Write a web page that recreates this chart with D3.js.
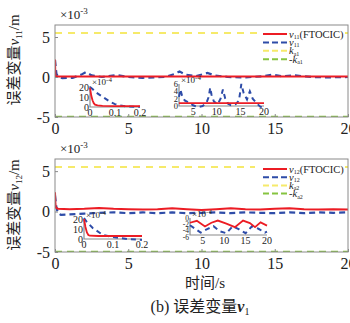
<!DOCTYPE html>
<html><head><meta charset="utf-8">
<script src="https://cdn.jsdelivr.net/npm/d3@7"></script>
<style>body{margin:0;background:#fff}svg{display:block}</style>
</head><body>
<script>
// ---------- DATA ----------
// main panels, units 1e-3 m
const xTicksMain = [0, 5, 10, 15, 20];
const yTicksMain = [-5, 0, 5];
const kBound = 5.5, kNeg = -5;

const topRedT = [0, 0.02, 0.05, 0.2, 20];
const topRedV = [2.2, 0.4, 0.1, 0.05, 0.05];
const topBlueT = [0, 0.05, 0.1, 0.2, 0.5, 1.2, 1.8, 2.1, 2.5, 3.2, 4.2, 5, 6, 7.5, 8.2, 8.5, 8.9, 9.6, 10.4, 10.9, 11.8, 13, 14.2, 14.8, 15.5, 16.4, 17.5, 18.6, 20];
const topBlueV = [2.1, 1.2, 0.4, 0.05, -0.15, -0.1, 0.3, 0.6, 0.2, 0, 0.25, 0, -0.1, 0, 0.4, 0.7, 0.3, 0.1, 0.5, 0.2, 0, -0.05, 0.1, 0.3, 0.1, 0.2, 0, -0.05, 0];

const botRedT = [0, 0.02, 0.05, 0.2, 1, 2, 3, 4, 5, 6, 7, 8, 9, 10, 11, 12, 13, 14, 15, 16, 17, 18, 19, 20];
const botRedV = [2.4, 1.2, 0.5, 0.35, 0.3, 0.35, 0.45, 0.35, 0.3, 0.25, 0.3, 0.4, 0.3, 0.2, 0.3, 0.4, 0.3, 0.25, 0.35, 0.4, 0.3, 0.25, 0.3, 0.25];
const botBlueT = [0, 0.05, 0.1, 0.2, 0.4, 1, 2, 3, 4, 5, 6, 7, 8, 9, 10, 11, 12, 13, 14, 15, 16, 17, 18, 19, 20];
const botBlueV = [2.0, 1.2, 0.5, -0.2, -0.4, -0.35, -0.25, -0.15, -0.1, -0.2, -0.1, -0.2, -0.1, -0.2, -0.15, -0.1, -0.2, -0.1, -0.15, -0.2, -0.1, -0.2, -0.1, -0.15, -0.1];

// insets, units 1e-4 m
const inA_xTicks = [0, 0.1, 0.2];
const inA_yTicks = [0, 10, 20];
const topInARedT = [0, 0.005, 0.01, 0.015, 0.02, 0.03, 0.05, 0.1, 0.2];
const topInARedV = [20, 12, 7, 4, 2.5, 1.6, 1.2, 1, 1];
const topInABlueT = [0, 0.01, 0.02, 0.04, 0.06, 0.08, 0.1, 0.12, 0.15, 0.2];
const topInABlueV = [21, 19, 16, 12.5, 9, 5.5, 3, 1.5, 0.5, 0.3];

const botInARedT = [0, 0.005, 0.01, 0.015, 0.02, 0.05, 0.1, 0.2];
const botInARedV = [20, 12, 6.5, 4, 3.3, 3, 3, 3];
const botInABlueT = [0, 0.01, 0.03, 0.065, 0.1, 0.15, 0.2];
const botInABlueV = [21, 17, 11, 4, 2, 0, -1];

const inB_xTicks = [5, 10, 15, 20];
const topInB_yTicks = [0, 2, 4, 6];
const topInBRedT = [2, 20];
const topInBRedV = [0.8, 0.8];
const topInBBlueT = [2, 2.3, 2.6, 3.2, 4.0, 5.0, 6.0, 7.0, 7.8, 8.3, 8.6, 8.9, 9.4, 10.2, 10.8, 11.3, 11.8, 12.4, 13.0, 14.0, 14.7, 15.2, 15.7, 16.4, 17.0, 17.6, 18.4, 19.2, 20];
const topInBBlueV = [2.5, 4.5, 3, 1.5, 1, 0.2, -0.3, 0, 0.8, 2.5, 5, 3, 1.2, 0.5, 2, 4.5, 2, 0.6, 0.2, 0.5, 1.5, 6, 3.5, 1.8, 4, 2, 0.8, -0.2, -0.5];

const botInB_yTicks = [-6, -4, -2, 0];
const botInBRedT = [2, 3.6, 5.5, 7, 8.5, 10.5, 12.5, 14.4, 16, 17.2, 18.5, 20];
const botInBRedV = [-1.5, -0.9, -2.7, -1.5, -0.8, -1.8, -2.9, -0.8, -1.6, -2.9, -1.4, -2.4];
const botInBBlueT = [2, 3, 4.5, 6, 7.5, 9, 10.5, 12, 13.5, 15, 16.5, 18, 19.5, 20];
const botInBBlueV = [-2.3, -3.2, -4.6, -3.5, -2.6, -4.2, -4.8, -2.6, -3.6, -4.8, -2.6, -3.4, -4.6, -4.3];

// ---------- STYLE ----------
const W = 350, H = 323;
const RED = "#ec1c24", BLUE = "#2e4ca8", YEL = "#f6ea6a", GRN = "#86c440", AX = "#8a8a8a";
const SERIF = "'Liberation Serif','Times New Roman',serif";
const CJK = "'Noto Sans CJK SC',sans-serif";

const svg = d3.select("body").append("svg").attr("width", W).attr("height", H);

const zip = (t, v) => t.map((d, i) => [d, v[i]]);

function panel(o) {
  const g = svg.append("g");
  const x = d3.scaleLinear().domain([0, 20]).range([o.x0, o.x1]);
  const y = d3.scaleLinear().domain([-5, 6.5]).range([o.y1, o.y0]);
  const cid = "clip" + o.id;
  svg.append("clipPath").attr("id", cid).append("rect")
    .attr("x", o.x0).attr("y", o.y0).attr("width", o.x1 - o.x0).attr("height", o.y1 - o.y0);
  const pl = g.append("g").attr("clip-path", `url(#${cid})`);
  const line = d3.line().x(d => x(d[0])).y(d => y(d[1]));
  pl.append("path").datum([[0, kBound], [20, kBound]]).attr("d", line)
    .attr("stroke", YEL).attr("stroke-width", 2).attr("stroke-dasharray", "7,6").attr("fill", "none");
  pl.append("path").datum([[0, kNeg], [20, kNeg]]).attr("d", line)
    .attr("stroke", GRN).attr("stroke-width", 2.4).attr("stroke-dasharray", "7,5").attr("fill", "none");
  pl.append("path").datum(zip(o.blueT, o.blueV)).attr("d", line)
    .attr("stroke", BLUE).attr("stroke-width", 2.2).attr("stroke-dasharray", "6,4").attr("fill", "none");
  pl.append("path").datum(zip(o.redT, o.redV)).attr("d", line)
    .attr("stroke", RED).attr("stroke-width", 2).attr("fill", "none");
  g.append("rect").attr("x", o.x0).attr("y", o.y0).attr("width", o.x1 - o.x0).attr("height", o.y1 - o.y0)
    .attr("fill", "none").attr("stroke", AX).attr("stroke-width", 1);
  const xa = g.append("g").attr("transform", `translate(0,${o.y1})`)
    .call(d3.axisBottom(x).tickValues(xTicksMain).tickSize(-3).tickPadding(6).tickFormat(d3.format("d")));
  const ya = g.append("g").attr("transform", `translate(${o.x0},0)`)
    .call(d3.axisLeft(y).tickValues(yTicksMain).tickSize(-3).tickPadding(5).tickFormat(d => d < 0 ? "-" + Math.abs(d) : d));
  [xa, ya].forEach(a => {
    a.select(".domain").remove();
    a.selectAll("line").attr("stroke", AX);
    a.selectAll("text").attr("font-family", SERIF).attr("font-size", 16).attr("fill", "#222");
  });
  const ex = g.append("text").attr("x", o.x0 + 5).attr("y", o.y0 - 6).attr("font-family", SERIF).attr("font-size", 13).attr("fill", "#222");
  ex.append("tspan").text("×10");
  ex.append("tspan").attr("dy", -5).attr("font-size", 9).text("-3");
  const yl = g.append("text").attr("transform", `translate(${o.ylx},${o.yly}) rotate(-90)`)
    .attr("text-anchor", "middle").attr("font-size", 15).attr("fill", "#222");
  yl.append("tspan").attr("font-family", CJK).text("误差变量");
  yl.append("tspan").attr("font-family", SERIF).attr("font-style", "italic").text("v");
  yl.append("tspan").attr("font-family", SERIF).attr("font-size", 9).attr("dy", 3).text(o.sub);
  yl.append("tspan").attr("font-family", SERIF).attr("dy", -3).text("/m");
  g.append("rect").attr("x", o.lg.x).attr("y", o.lg.y).attr("width", o.lg.w).attr("height", o.lg.h).attr("fill", "#fff");
  const items = [
    {c: RED, dash: null, lab: [["v", "i"], [o.sub, "s"], ["(FTOCIC)", "n"]]},
    {c: BLUE, dash: "6,3", lab: [["v", "i"], [o.sub, "s"]]},
    {c: YEL, dash: "6,3", lab: [["k", "i"], [o.ksub, "s"]]},
    {c: GRN, dash: "6,3", lab: [["-", "n"], ["k", "i"], [o.ksub, "s"]]}
  ];
  items.forEach((it, i) => {
    const yy = o.lg.r0 + i * o.lg.dr;
    g.append("line").attr("x1", o.lg.lx0).attr("x2", o.lg.lx0 + 24).attr("y1", yy).attr("y2", yy)
      .attr("stroke", it.c).attr("stroke-width", 2).attr("stroke-dasharray", it.dash);
    const t = g.append("text").attr("x", o.lg.lx0 + 26).attr("y", yy + 3.5).attr("font-family", SERIF).attr("font-size", 10.5).attr("fill", "#222");
    let sub = false;
    it.lab.forEach(([s, k]) => {
      const ts = t.append("tspan").text(s);
      if (k === "i") ts.attr("font-style", "italic");
      if (k === "s") { ts.attr("font-size", 6).attr("dy", 1.5); sub = true; }
      else if (sub) { ts.attr("dy", -1.5); sub = false; }
    });
  });
  return g;
}

function inset(o) {
  const g = svg.append("g");
  const x = d3.scaleLinear().domain(o.xd).range([o.x0, o.x1]);
  const y = d3.scaleLinear().domain(o.yd).range([o.y1, o.y0]);
  const line = d3.line().x(d => x(d[0])).y(d => y(d[1]));
  g.append("path").attr("d", `M${o.x0},${o.y0}V${o.axY}H${o.x1}`).attr("fill", "none").attr("stroke", AX).attr("stroke-width", 1.2);
  g.append("path").datum(zip(o.blueT, o.blueV)).attr("d", line)
    .attr("stroke", BLUE).attr("stroke-width", 2).attr("stroke-dasharray", "5,4").attr("fill", "none");
  g.append("path").datum(zip(o.redT, o.redV)).attr("d", line)
    .attr("stroke", RED).attr("stroke-width", 1.8).attr("fill", "none");
  g.selectAll(".xt").data(o.xt).enter().append("text")
    .attr("x", d => x(d)).attr("y", o.axY + 9).attr("text-anchor", "middle")
    .attr("font-family", SERIF).attr("font-size", 10).attr("fill", "#222").text(d => d);
  const fs = o.yfs || 10;
  g.selectAll(".yt").data(o.yt).enter().append("text")
    .attr("x", o.x0 - 1).attr("y", d => y(d) + fs * 0.35).attr("text-anchor", "end")
    .attr("font-family", SERIF).attr("font-size", fs).attr("fill", "#222").text(d => d < 0 ? "-" + Math.abs(d) : d);
  const ex = g.append("text").attr("x", o.x0 + 2).attr("y", o.y0 - 1).attr("font-family", SERIF).attr("font-size", 9).attr("fill", "#222");
  ex.append("tspan").text("×10");
  ex.append("tspan").attr("dy", -3).attr("font-size", 7).text("-4");
}

panel({id: 1, x0: 55, x1: 348, y0: 25, y1: 117, redT: topRedT, redV: topRedV, blueT: topBlueT, blueV: topBlueV,
  ylx: 19, yly: 60, sub: "11", ksub: "a1",
  lg: {x: 258, y: 27, w: 87, h: 38, lx0: 263, r0: 34, dr: 8.4}});
panel({id: 2, x0: 55, x1: 348, y0: 159, y1: 252, redT: botRedT, redV: botRedV, blueT: botBlueT, blueV: botBlueV,
  ylx: 19, yly: 205, sub: "12", ksub: "a2",
  lg: {x: 255, y: 161, w: 90, h: 37, lx0: 263, r0: 169, dr: 8.2}});

inset({xd: [0, 0.2], yd: [0, 22], x0: 90, x1: 140, y0: 86, y1: 107, axY: 107, xt: inA_xTicks, yt: inA_yTicks,
  redT: topInARedT, redV: topInARedV, blueT: topInABlueT, blueV: topInABlueV});
inset({xd: [2, 20], yd: [0, 6], x0: 179, x1: 264, y0: 84, y1: 106, axY: 106, xt: inB_xTicks, yt: topInB_yTicks, yfs: 8.5,
  redT: topInBRedT, redV: topInBRedV, blueT: topInBBlueT, blueV: topInBBlueV});
inset({xd: [0, 0.2], yd: [0, 20], x0: 84, x1: 142, y0: 219, y1: 239, axY: 239, xt: inA_xTicks, yt: inA_yTicks,
  redT: botInARedT, redV: botInARedV, blueT: botInABlueT, blueV: botInABlueV});
inset({xd: [2, 20], yd: [-6, 0], x0: 190, x1: 267, y0: 218, y1: 237, axY: 235, xt: inB_xTicks, yt: botInB_yTicks, yfs: 7.5,
  redT: botInBRedT, redV: botInBRedV, blueT: botInBBlueT, blueV: botInBBlueV});

const xl = svg.append("text").attr("x", 205).attr("y", 288).attr("text-anchor", "middle").attr("font-size", 15).attr("fill", "#222");
xl.append("tspan").attr("font-family", CJK).text("时间");
xl.append("tspan").attr("font-family", SERIF).text("/s");
const cap = svg.append("text").attr("x", 200).attr("y", 312).attr("text-anchor", "middle").attr("font-size", 16).attr("fill", "#222");
cap.append("tspan").attr("font-family", SERIF).text("(b) ");
cap.append("tspan").attr("font-family", CJK).text("误差变量");
cap.append("tspan").attr("font-family", SERIF).attr("font-style", "italic").attr("font-weight", "bold").text("v");
cap.append("tspan").attr("font-family", SERIF).attr("font-size", 10).attr("dy", 3).text("1");
</script>
</body></html>
